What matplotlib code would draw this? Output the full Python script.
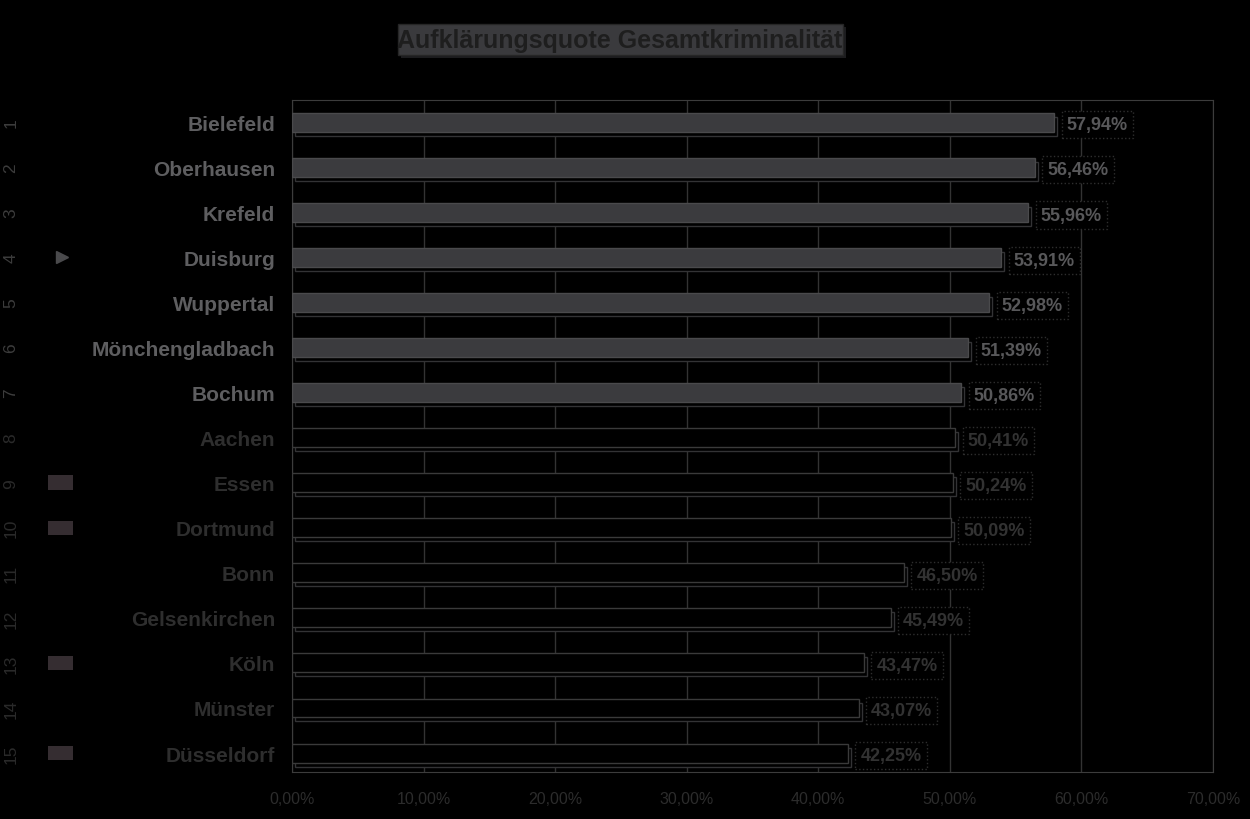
import matplotlib.pyplot as plt
import matplotlib.transforms as mtransforms
from matplotlib.patches import Rectangle

plt.rcParams["font.family"] = ["Liberation Sans", "DejaVu Sans"]

title = "Aufklärungsquote Gesamtkriminalität"
cities = ["Bielefeld", "Oberhausen", "Krefeld", "Duisburg", "Wuppertal",
          "Mönchengladbach", "Bochum", "Aachen", "Essen", "Dortmund",
          "Bonn", "Gelsenkirchen", "Köln", "Münster", "Düsseldorf"]
ranks = list(range(1, 16))
quote = [57.94, 56.46, 55.96, 53.91, 52.98, 51.39, 50.86, 50.41, 50.24,
         50.09, 46.50, 45.49, 43.47, 43.07, 42.25]
n_highlight = 7  # die ersten sieben Balken sind grau gefuellt
arrow_rows = ["Duisburg"]
box_rows = ["Essen", "Dortmund", "Köln", "Düsseldorf"]
x_ticks = [0, 10, 20, 30, 40, 50, 60, 70]
x_tick_labels = ["0,00%", "10,00%", "20,00%", "30,00%", "40,00%",
                 "50,00%", "60,00%", "70,00%"]

fig = plt.figure(figsize=(12.5, 8.2), dpi=100, facecolor="black")
ax = fig.add_axes([292 / 1250, 1 - 773 / 820, 921 / 1250, 672 / 820])
ax.set_facecolor("black")

rows = list(range(len(cities)))
fill = ["#3b3b3e" if i < n_highlight else "black" for i in rows]
edge = ["#4a4a4c" if i < n_highlight else "#3a3a3a" for i in rows]

shadow = mtransforms.offset_copy(ax.transData, fig=fig, x=3, y=-4, units="dots")
ax.barh(rows, quote, height=0.42, color="black", edgecolor="#333335",
        linewidth=1, transform=shadow, zorder=2)
ax.barh(rows, quote, height=0.42, color=fill, edgecolor=edge,
        linewidth=1, zorder=3)

for i, v in enumerate(quote):
    col = "#58585a" if i < n_highlight else "#323232"
    ax.annotate(f"{v:.2f}%".replace(".", ","), (v, i), xytext=(9, -2),
                textcoords="offset points", ha="left", va="center",
                fontsize=13, fontweight="bold", color=col, zorder=4,
                bbox=dict(boxstyle="square,pad=0.28", fc="black",
                          ec="#2e2e2e", ls=":", lw=1))

ax.set_xlim(0, 70)
ax.set_ylim(14.42, -0.49)
ax.set_xticks(x_ticks)
ax.set_xticklabels(x_tick_labels, fontsize=11.5, color="#2c2c2c")
ax.set_yticks(rows)
ax.set_yticklabels(cities, fontsize=15, fontweight="bold")
for i, lab in enumerate(ax.get_yticklabels()):
    lab.set_color("#5e5e60" if i < n_highlight else "#2e2e2e")
ax.tick_params(axis="y", length=0, pad=12)
ax.tick_params(axis="x", length=0, pad=14)
ax.grid(axis="x", color="#333333", linewidth=1, zorder=1)
ax.set_axisbelow(True)
for s in ax.spines.values():
    s.set_color("#3c3c3c")

# Rangnummern und Markierungen links
left = mtransforms.blended_transform_factory(fig.transFigure, ax.transData)
for i, r in enumerate(ranks):
    fig.text(11 / 1250, i, str(r), transform=left, rotation=90, ha="center",
             va="center", fontsize=12.5,
             color="#3c3c3c" if i < n_highlight else "#2a2a2a")
for name in arrow_rows:
    i = cities.index(name)
    ax.plot([62 / 1250], [i], marker=">", markersize=8, color="#4a4a4c",
            transform=left, clip_on=False)
for name in box_rows:
    i = cities.index(name)
    fig.add_artist(Rectangle((48 / 1250, i - 0.16), 25 / 1250, 0.32,
                             transform=left, facecolor="#352d31",
                             edgecolor="none"))

# Titel mit Kasten und Schatten
fig.add_artist(Rectangle((401 / 1250, 1 - 59 / 820), 445 / 1250, 31 / 820,
                         transform=fig.transFigure, facecolor="#1c1c1e",
                         edgecolor="none"))
fig.add_artist(Rectangle((398 / 1250, 1 - 56 / 820), 445 / 1250, 31 / 820,
                         transform=fig.transFigure, facecolor="#3a3a3d",
                         edgecolor="#262626", linewidth=1))
fig.text(620 / 1250, 1 - 41 / 820, title, ha="center", va="center",
         fontsize=18, fontweight="bold", color="#1e1e1e")

fig.savefig("out.png", dpi=100, facecolor="black")
